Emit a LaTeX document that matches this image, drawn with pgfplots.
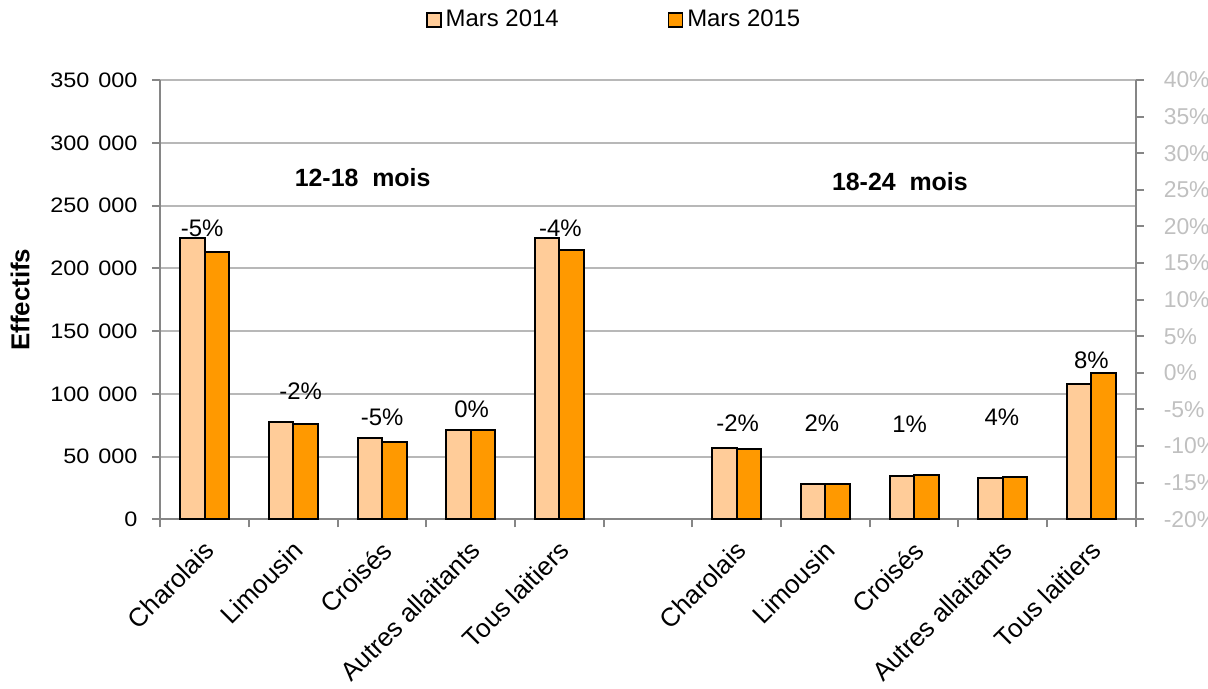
\documentclass[border=0pt]{standalone}
\usepackage{fontspec}
\setmainfont{Liberation Sans}
\newfontfamily\widefont[FakeStretch=1.12]{Liberation Sans}
\usepackage{pgfplots}
\pgfplotsset{compat=1.18}
\definecolor{c14}{HTML}{FFCC99}
\definecolor{c15}{HTML}{FF9900}
\definecolor{gridgray}{HTML}{B8B8B8}
\definecolor{axgray}{HTML}{868686}
\definecolor{rgray}{HTML}{C0C0C0}
\newcommand{\lbl}{\fontsize{12}{14}\selectfont}
\newcommand{\ksep}{\hspace{4.5bp}}

\begin{document}
\begin{tikzpicture}
\begin{axis}[
  name=main,
  scale only axis,
  width=487.6bp, height=219.6bp,
  xmin=-0.5, xmax=10.5,
  ymin=0, ymax=350000,
  scaled y ticks=false,
  axis x line*=bottom, axis y line*=left,
  axis line style={draw=axgray, line width=1bp},
  tick align=outside,
  major tick length=4bp,
  minor tick length=4bp,
  xtick={0,1,2,3,4,6,7,8,9,10},
  xticklabels={Charolais,Limousin,Croisés,Autres allaitants,Tous laitiers,Charolais,Limousin,Croisés,Autres allaitants,Tous laitiers},
  major x tick style={draw=none},
  minor xtick={-0.5,0.5,1.5,2.5,3.5,4.5,5.5,6.5,7.5,8.5,9.5,10.5},
  minor x tick style={draw=axgray, line width=1bp},
  xticklabel style={rotate=45, anchor=north east, font=\fontsize{13}{15}\selectfont, xshift=-1.5bp},
  ytick={0,50000,100000,150000,200000,250000,300000,350000},
  yticklabels={0,50\ksep 000,100\ksep 000,150\ksep 000,200\ksep 000,250\ksep 000,300\ksep 000,350\ksep 000},
  major y tick style={draw=axgray, line width=1bp},
  yticklabel style={font=\widefont\fontsize{10.5}{13}\selectfont, xshift=-4bp},
  ymajorgrids,
  major grid style={draw=gridgray, line width=1bp},
  ylabel={Effectifs},
  every axis y label/.style={at={(axis description cs:-0.144,0.5)}, rotate=90, anchor=center, font=\bfseries\fontsize{13}{15}\selectfont},
  legend columns=2,
  legend style={at={(axis description cs:0.272,1.137)}, anchor=west, draw=none, fill=none, inner sep=0pt,
    font=\fontsize{12}{14}\selectfont,
    /tikz/every even column/.append style={column sep=52.5bp}},
]
% Mars 2014
\addplot[ybar, bar width=0.276, bar shift=-0.138, fill=c14, draw=black, line width=1bp, forget plot]
  coordinates {(0,224000) (1,77500) (2,65000) (3,71000) (4,224000) (6,56800) (7,28000) (8,34600) (9,33000) (10,108000)};
% Mars 2015
\addplot[ybar, bar width=0.276, bar shift=0.138, fill=c15, draw=black, line width=1bp, forget plot]
  coordinates {(0,213000) (1,76000) (2,62000) (3,71000) (4,215000) (6,55700) (7,28500) (8,35000) (9,34000) (10,116700)};

\addlegendimage{legend image code/.code={\draw[fill=c14,draw=black,line width=0.8bp] (0bp,-3.5bp) rectangle (7bp,3.5bp);}}
\addlegendentry{Mars 2014}
\addlegendimage{legend image code/.code={\draw[fill=c15,draw=black,line width=0.8bp] (0bp,-3.5bp) rectangle (7bp,3.5bp);}}
\addlegendentry{Mars 2015}

% variations
\node[font=\lbl] at (axis cs:-0.03,231600) {-5\%};
\node[font=\lbl] at (axis cs:1.08,102200) {-2\%};
\node[font=\lbl] at (axis cs:2.0,81600) {-5\%};
\node[font=\lbl] at (axis cs:3.01,87400) {0\%};
\node[font=\lbl] at (axis cs:4.01,232100) {-4\%};
\node[font=\lbl] at (axis cs:6.01,76300) {-2\%};
\node[font=\lbl] at (axis cs:6.96,76800) {2\%};
\node[font=\lbl] at (axis cs:7.95,75500) {1\%};
\node[font=\lbl] at (axis cs:8.99,81100) {4\%};
\node[font=\lbl] at (axis cs:10.0,126600) {8\%};

\node[font=\bfseries\fontsize{12.5}{14}\selectfont] at (axis cs:1.78,272100) {12-18\ \ mois};
\node[font=\bfseries\fontsize{12.5}{14}\selectfont] at (axis cs:7.84,269000) {18-24\ \ mois};
\end{axis}

\begin{axis}[
  scale only axis,
  width=487.6bp, height=219.6bp,
  xmin=-0.5, xmax=10.5,
  ymin=-20, ymax=40,
  axis x line=none,
  axis y line*=right,
  axis line style={draw=axgray, line width=1bp},
  tick align=outside,
  major tick length=4bp,
  ytick={-20,-15,-10,-5,0,5,10,15,20,25,30,35,40},
  yticklabels={-20\%,-15\%,-10\%,-5\%,0\%,5\%,10\%,15\%,20\%,25\%,30\%,35\%,40\%},
  major y tick style={draw=axgray, line width=1bp},
  yticklabel style={text=rgray, font=\fontsize{11.5}{13}\selectfont, anchor=west, xshift=6.5bp},
]
\end{axis}

\pgfresetboundingbox
\path[use as bounding box] (main.south west) ++(-80.25bp,-84.85bp) rectangle ++(604bp,344.5bp);
\end{tikzpicture}
\end{document}
